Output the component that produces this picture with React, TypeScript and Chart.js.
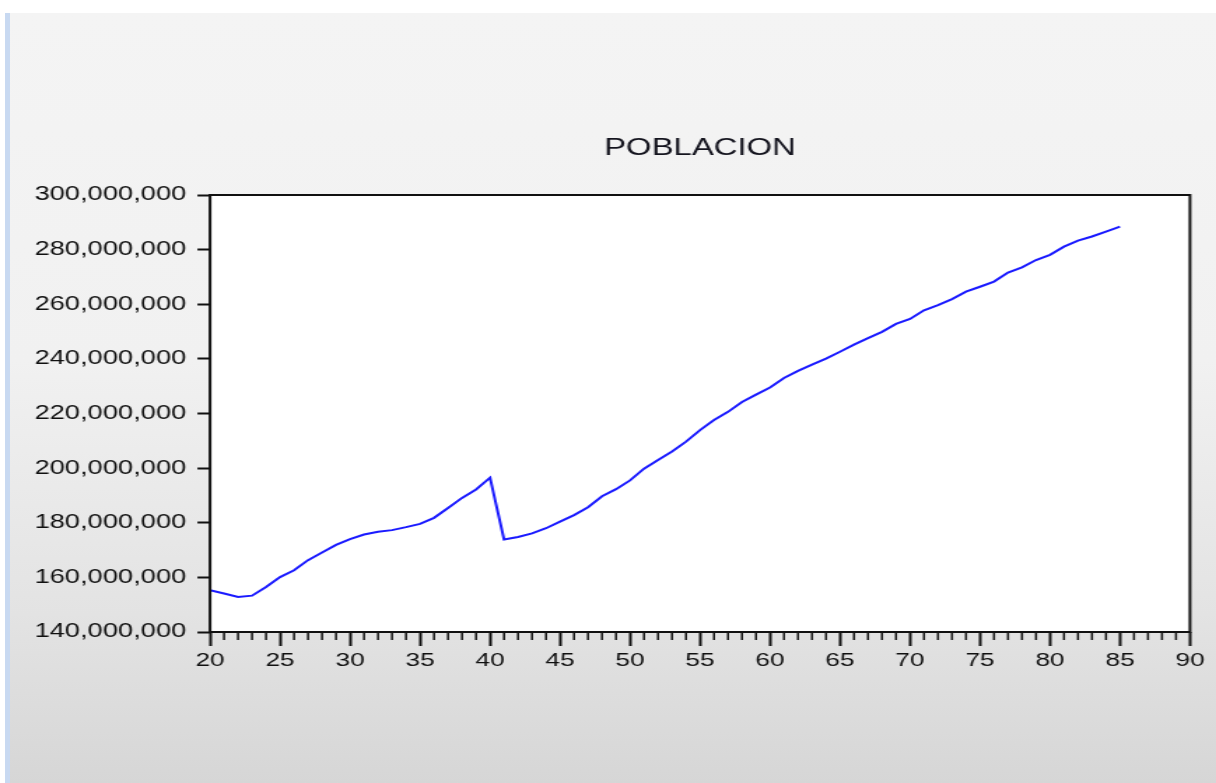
import React, { useEffect, useRef } from "react";
import { Chart, registerables } from "chart.js";

Chart.register(...registerables);

// ---- data ----
const chartTitle = "POBLACION";
const years = [
  20, 21, 22, 23, 24, 25, 26, 27, 28, 29,
  30, 31, 32, 33, 34, 35, 36, 37, 38, 39,
  40, 41, 42, 43, 44, 45, 46, 47, 48, 49,
  50, 51, 52, 53, 54, 55, 56, 57, 58, 59,
  60, 61, 62, 63, 64, 65, 66, 67, 68, 69,
  70, 71, 72, 73, 74, 75, 76, 77, 78, 79,
  80, 81, 82, 83, 84, 85,
];
const population = [
  155300000, 154100000, 152800000, 153300000, 156500000, 160100000, 162600000, 166300000, 169100000, 171900000,
  174000000, 175700000, 176700000, 177300000, 178400000, 179600000, 181800000, 185400000, 189100000, 192200000,
  196500000, 173900000, 174800000, 176100000, 178000000, 180400000, 182800000, 185700000, 189700000, 192300000,
  195500000, 199800000, 203000000, 206100000, 209700000, 213900000, 217600000, 220600000, 224200000, 226900000,
  229500000, 233000000, 235600000, 237900000, 240100000, 242600000, 245200000, 247600000, 249900000, 252800000,
  254600000, 257800000, 259700000, 261900000, 264600000, 266400000, 268300000, 271600000, 273500000, 276200000,
  278100000, 281100000, 283300000, 284800000, 286600000, 288400000,
];
const xTickValues = [20, 25, 30, 35, 40, 45, 50, 55, 60, 65, 70, 75, 80, 85, 90];
const yTickValues = [140000000, 160000000, 180000000, 200000000, 220000000, 240000000, 260000000, 280000000, 300000000];

// ---- layout constants ----
const PAGE_W = 1216;
const PAGE_H = 783;
const CW = 869; // unscaled canvas width (stretched horizontally to page width)
const SX = PAGE_W / CW;
const FONT = '"Liberation Sans", Arial, sans-serif';

export default function App() {
  const ref = useRef<HTMLCanvasElement>(null);

  useEffect(() => {
    const framePlugin = {
      id: "frame",
      beforeDatasetsDraw(chart: any) {
        const { ctx, chartArea: a } = chart;
        ctx.save();
        ctx.fillStyle = "#ffffff";
        ctx.fillRect(a.left, a.top, a.right - a.left, a.bottom - a.top);
        ctx.restore();
      },
      afterDraw(chart: any) {
        const { ctx, chartArea: a } = chart;
        const xs = chart.scales.x;
        ctx.save();
        // title centred over the plot area
        ctx.fillStyle = "#14141e";
        ctx.font = `normal 23.5px ${FONT}`;
        ctx.textAlign = "center";
        ctx.textBaseline = "middle";
        ctx.fillText(chartTitle, (a.left + a.right) / 2, 149);
        // minor ticks every year
        ctx.strokeStyle = "#111111";
        ctx.lineWidth = 1.5;
        for (let v = xs.min; v <= xs.max; v++) {
          if (v % 5 === 0) continue;
          const px = xs.getPixelForValue(v);
          ctx.beginPath();
          ctx.moveTo(px, a.bottom);
          ctx.lineTo(px, a.bottom + 8);
          ctx.stroke();
        }
        // frame
        ctx.lineWidth = 2;
        ctx.strokeStyle = "#111111";
        ctx.strokeRect(a.left, a.top, a.right - a.left, a.bottom - a.top);
        ctx.restore();
      },
    };

    const chart = new Chart(ref.current!, {
      type: "line",
      data: {
        labels: years,
        datasets: [
          {
            label: chartTitle,
            data: years.map((y, i) => ({ x: y, y: population[i] })),
            borderColor: "#1a1aff",
            borderWidth: 2,
            pointRadius: 0,
            tension: 0,
            fill: false,
          },
        ],
      },
      options: {
        animation: false,
        responsive: true,
        maintainAspectRatio: false,
        layout: { padding: { left: 0, right: CW - 850.4, top: 195, bottom: 0 } },
        plugins: {
          legend: { display: false },
          tooltip: { enabled: false },
          title: { display: false },
        },
        scales: {
          x: {
            type: "linear",
            min: 20,
            max: 90,
            afterBuildTicks: (s: any) => {
              s.ticks = xTickValues.map((v) => ({ value: v }));
            },
            afterFit: (s: any) => {
              s.height = PAGE_H - 632;
            },
            border: { display: false },
            grid: {
              drawOnChartArea: false,
              drawTicks: true,
              tickLength: 14,
              tickWidth: 2,
              tickColor: "#111111",
            },
            ticks: {
              autoSkip: false,
              maxRotation: 0,
              padding: 4,
              color: "#101010",
              font: { family: FONT, size: 18.8 },
              callback: (v: any) => String(v),
            },
          },
          y: {
            type: "linear",
            min: 140000000,
            max: 300000000,
            afterBuildTicks: (s: any) => {
              s.ticks = yTickValues.map((v) => ({ value: v }));
            },
            afterFit: (s: any) => {
              s.width = 150.1;
            },
            border: { display: false },
            grid: {
              drawOnChartArea: false,
              drawTicks: true,
              tickLength: 9,
              tickWidth: 2,
              tickColor: "#111111",
            },
            ticks: {
              padding: 8,
              color: "#101010",
              font: { family: FONT, size: 19.5 },
              callback: (v: any) => Number(v).toLocaleString("en-US"),
            },
          },
        },
      } as any,
      plugins: [framePlugin],
    });
    return () => chart.destroy();
  }, []);

  return (
    <div
      style={{
        position: "fixed",
        left: 0,
        top: 0,
        width: PAGE_W,
        height: PAGE_H,
        background: "#ffffff",
        overflow: "hidden",
      }}
    >
      <div
        style={{
          position: "absolute",
          left: 5,
          top: 13,
          right: 0,
          bottom: 0,
          borderLeft: "5px solid #c8d9f1",
          background:
            "linear-gradient(to bottom, #f4f4f4 0%, #f1f1f1 45%, #e3e3e3 78%, #d6d6d6 100%)",
        }}
      />
      <div
        style={{
          position: "absolute",
          left: 0,
          top: 0,
          width: CW,
          height: PAGE_H,
          transform: `scaleX(${SX})`,
          transformOrigin: "0 0",
        }}
      >
        <canvas ref={ref} />
      </div>
    </div>
  );
}
